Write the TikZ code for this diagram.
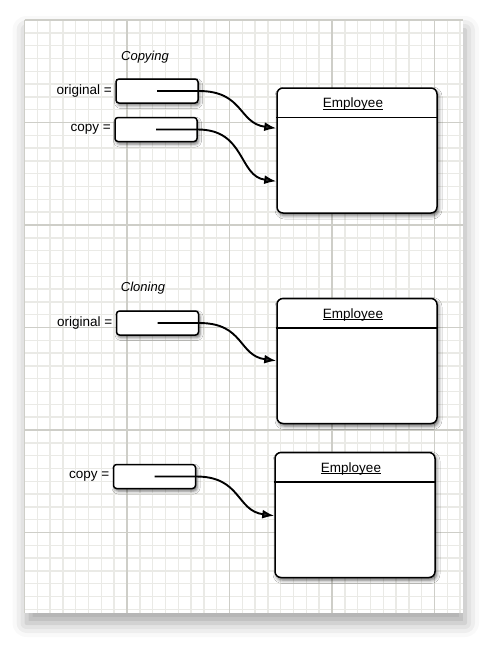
\documentclass[tikz,border=0pt]{standalone}
\usepackage{fontspec}
\setmainfont{Liberation Sans}
\usetikzlibrary{positioning,arrows.meta,shadows.blur}
\definecolor{minorgrid}{RGB}{234,234,230}
\definecolor{majorgrid}{RGB}{206,206,200}
\tikzset{
  refbox/.style={draw=black,line width=1.5pt,rounded corners=3pt,fill=white,
    minimum width=82pt,minimum height=24pt,inner sep=0,label distance=1.5pt,
    blur shadow={shadow xshift=1.5pt,shadow yshift=-2.5pt,shadow blur radius=3pt,shadow opacity=55}},
  objbox/.style={draw=black,line width=1.5pt,rounded corners=6pt,fill=white,
    minimum width=160pt,minimum height=125pt,inner sep=0,
    blur shadow={shadow xshift=1.5pt,shadow yshift=-2.5pt,shadow blur radius=3.5pt,shadow opacity=60}},
  title/.style={inner sep=0},
  ref/.style={line width=1.9pt,-{Latex[length=12pt,width=9pt]}},
  heading/.style={font=\fontsize{13}{15}\selectfont\itshape}
}
\begin{document}
\begin{tikzpicture}[x=1pt,y=-1pt,font=\fontsize{13.5}{16}\selectfont]
  \useasboundingbox (0,0) rectangle (499,649);
  \fill[white,blur shadow={shadow xshift=2pt,shadow yshift=-10pt,shadow blur radius=14pt,shadow opacity=35}] (24.5,20) rectangle (463,613);
  \begin{scope}[shift={(24.5,20)}]
    \draw[minorgrid,line width=1.4pt] (0,0) grid[step=12.8125pt] (438.5,593);
    \draw[majorgrid,line width=1.4pt] (0,0) grid[step=102.5pt] (438.5,593);
  \end{scope}

  \node[heading] (copying) at (145,57) {Copying};
  \node[refbox,label={left:{original =}}] (orig1) at (157,91) {};
  \node[refbox,label={left:{copy =}}] (copy1) at (156,129.5) {};
  \node[objbox] (emp1) at (357,150.5) {};
  \node[title] (t1) at ([xshift=-4pt,yshift=-17pt]emp1.north) {Employee};
  \draw[line width=0.8pt] ([yshift=-1.5pt]t1.base west) -- ([yshift=-1.5pt]t1.base east);
  \draw[line width=1.5pt] ([yshift=-30pt]emp1.north west) -- ([yshift=-30pt]emp1.north east);
  \coordinate (in1a) at ([yshift=-41pt]emp1.north west);
  \coordinate (in1b) at ([yshift=-94pt]emp1.north west);
  \draw[ref] (orig1.center) -- (orig1.east) .. controls +(45,0) and +(-38,-5) .. (in1a);
  \draw[ref] (copy1.center) -- (copy1.east) .. controls +(48,0) and +(-38,-5) .. (in1b);

  \node[heading] (cloning) at (143,288) {Cloning};
  \node[refbox,label={left:{original =}}] (orig2) at (157.5,323) {};
  \node[objbox] (emp2) at (357,361) {};
  \node[title] (t2) at ([xshift=-4pt,yshift=-17pt]emp2.north) {Employee};
  \draw[line width=0.8pt] ([yshift=-1.5pt]t2.base west) -- ([yshift=-1.5pt]t2.base east);
  \draw[line width=1.5pt] ([yshift=-30pt]emp2.north west) -- ([yshift=-30pt]emp2.north east);
  \coordinate (in2) at ([yshift=-63pt]emp2.north west);
  \draw[ref] (orig2.center) -- (orig2.east) .. controls +(45,0) and +(-38,-5) .. (in2);

  \node[refbox,label={left:{copy =}}] (copy2) at (154.5,476.5) {};
  \node[objbox] (emp3) at (355,515) {};
  \node[title] (t3) at ([xshift=-4pt,yshift=-17pt]emp3.north) {Employee};
  \draw[line width=0.8pt] ([yshift=-1.5pt]t3.base west) -- ([yshift=-1.5pt]t3.base east);
  \draw[line width=1.5pt] ([yshift=-30pt]emp3.north west) -- ([yshift=-30pt]emp3.north east);
  \coordinate (in3) at ([yshift=-64pt]emp3.north west);
  \draw[ref] (copy2.center) -- (copy2.east) .. controls +(45,0) and +(-38,-5) .. (in3);
\end{tikzpicture}
\end{document}
